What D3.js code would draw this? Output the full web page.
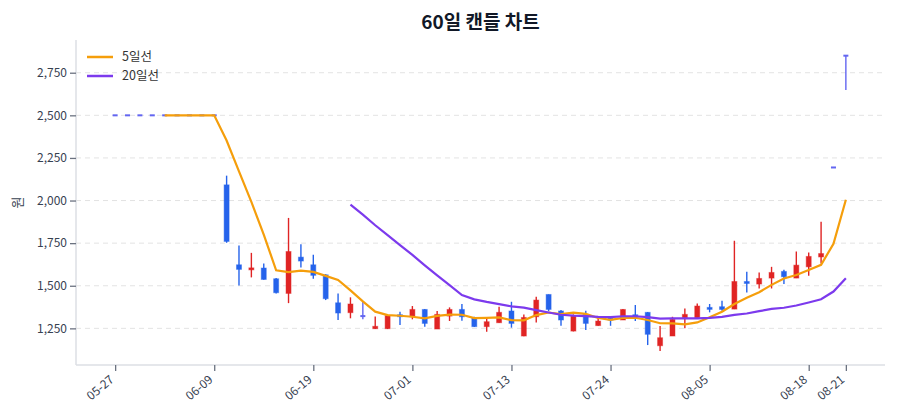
<!DOCTYPE html>
<html>
<head>
<meta charset="utf-8">
<script src="https://cdn.jsdelivr.net/npm/d3@7"></script>
<style>
  body { margin: 0; background: #fff; }
  svg { font-family: "Noto Sans CJK KR", "Noto Sans", sans-serif; }
</style>
</head>
<body>
<script>
var w = 900;
var h = 420;

var dates = ["05-27","05-28","05-29","05-30","06-02","06-03","06-04","06-05","06-09",
  "06-10","06-11","06-12","06-13","06-16","06-17","06-18","06-19",
  "06-20","06-23","06-24","06-25","06-26","06-27","06-30","07-01",
  "07-02","07-03","07-04","07-07","07-08","07-09","07-10","07-13",
  "07-14","07-15","07-16","07-17","07-18","07-21","07-22","07-24",
  "07-25","07-28","07-29","07-30","07-31","08-01","08-04","08-05",
  "08-06","08-07","08-08","08-11","08-12","08-13","08-14","08-18",
  "08-19","08-20","08-21"];

var opens = [2500,2500,2500,2500,2500,2500,2500,2500,2500,
  2092,1623,1598,1604,1541,1455,1668,1623,1564,1400,1342,1322,1248,1248,1330,1318,
  1361,1246,1322,1361,1312,1260,1283,1352,1205,1318,1449,1352,1234,1332,1266,1310,
  1299,1330,1344,1148,1205,1312,1312,1373,1377,1363,1525,1510,1545,1584,1545,1611,
  1669,2194,2850];
var highs = [2500,2500,2500,2500,2500,2500,2500,2500,2500,
  2146,1736,1693,1631,1545,1898,1744,1682,1568,1455,1432,1406,1320,1330,1348,1381,
  1363,1352,1373,1393,1318,1309,1377,1406,1332,1435,1449,1357,1332,1354,1318,1320,
  1363,1387,1346,1264,1318,1367,1396,1393,1412,1764,1582,1578,1611,1594,1701,1695,
  1875,2194,2852];
var lows = [2500,2500,2500,2500,2500,2500,2500,2500,2500,
  1752,1502,1549,1535,1455,1398,1607,1541,1416,1299,1309,1303,1246,1246,1270,1303,
  1260,1246,1293,1295,1258,1230,1283,1254,1203,1285,1352,1266,1232,1240,1266,1265,
  1299,1293,1152,1117,1205,1250,1312,1344,1354,1363,1461,1484,1484,1510,1545,1559,
  1630,2194,2648];
var closes = [2500,2500,2500,2500,2500,2500,2500,2500,2500,
  1760,1596,1605,1537,1459,1701,1645,1561,1424,1340,1393,1322,1262,1325,1320,1361,
  1279,1332,1361,1318,1260,1289,1344,1279,1314,1416,1361,1299,1322,1279,1293,1305,
  1361,1322,1215,1195,1303,1332,1381,1365,1361,1525,1518,1543,1578,1553,1621,1672,
  1689,2194,2850];

var ma5 = [null,null,null,null,2500,2500,2500,2500,2500,
  2352,2171,1992,1800,1591,1580,1589,1581,1558,1534,1473,1408,1348,1328,1324,1318,
  1309,1323,1331,1330,1310,1312,1314,1298,1297,1328,1343,1334,1342,1335,1311,1300,
  1312,1312,1299,1280,1279,1273,1285,1315,1348,1393,1430,1462,1505,1543,1563,1593,
  1623,1746,2005];
var ma20 = [null,null,null,null,null,null,null,null,null,null,
  null,null,null,null,null,null,null,null,null,
  1976,1917,1855,1797,1738,1681,1620,1561,1504,1445,1420,1405,1392,1379,1372,1357,
  1343,1330,1325,1322,1317,1316,1321,1321,1316,1307,1308,1308,1309,1312,1317,1329,
  1337,1351,1364,1371,1384,1402,1421,1466,1544];

var yTicks = [1250, 1500, 1750, 2000, 2250, 2500, 2750];
var xTicks = [0, 8, 16, 24, 32, 40, 48, 56, 59];

var upColor = "#e02424";
var downColor = "#2563eb";
var flatColor = "#6366f1";

var plotLeft = 76, plotRight = 885, plotTop = 40, plotBottom = 365;

var svg = d3.select("body")
            .append("svg")
            .attr("width", w)
            .attr("height", h);

var x = d3.scalePoint()
          .domain(d3.range(dates.length))
          .range([plotLeft, plotRight])
          .padding(3.16);

var y = d3.scaleLinear()
          .domain([1035, 2942])
          .range([plotBottom, plotTop]);

// GRID & AXES =================================

svg.append("g")
    .selectAll("line")
    .data(yTicks)
    .enter().append("line")
        .attr("x1", plotLeft)
        .attr("x2", plotRight)
        .attr("y1", function(d) { return y(d); })
        .attr("y2", function(d) { return y(d); })
        .attr("stroke", "#e3e3e3")
        .attr("stroke-dasharray", "5,4");

var yAxis = svg.append("g")
    .attr("transform", "translate(" + plotLeft + ",0)")
    .call(d3.axisLeft(y).tickValues(yTicks).tickFormat(d3.format(",")).tickSize(6).tickPadding(3));

var xAxis = svg.append("g")
    .attr("transform", "translate(0," + plotBottom + ")")
    .call(d3.axisBottom(x).tickValues(xTicks).tickFormat(function(i) { return dates[i]; }).tickSize(6));

[yAxis, xAxis].forEach(function(g) {
    g.select(".domain").attr("stroke", "#dcdfe4").attr("stroke-width", 1.5);
    g.selectAll(".tick line").attr("stroke", "#6b7280").attr("stroke-width", 1.3);
    g.selectAll(".tick text")
        .attr("fill", "#374151")
        .style("font-family", "\"Noto Sans CJK KR\", \"Noto Sans\", sans-serif")
        .style("font-size", "12px");
});
// the domain line spans the full plot width
xAxis.select(".domain").attr("d", "M" + plotLeft + ",0H" + plotRight);
yAxis.select(".domain").attr("d", "M0," + plotTop + "V" + plotBottom);

xAxis.selectAll(".tick text")
    .attr("text-anchor", "end")
    .attr("y", 0)
    .attr("dy", null)
    .attr("transform", "translate(-1,16) rotate(-40)");

svg.append("text")
    .attr("transform", "translate(22," + ((plotTop + plotBottom) / 2) + ") rotate(-90)")
    .attr("text-anchor", "middle")
    .attr("font-size", "13px")
    .attr("fill", "#374151")
    .text("원");

svg.append("text")
    .attr("x", (plotLeft + plotRight) / 2)
    .attr("y", 29)
    .attr("text-anchor", "middle")
    .attr("font-size", "19px")
    .attr("font-weight", "bold")
    .attr("fill", "#111827")
    .text("60일 캔들 차트");

// CANDLES =====================================

function candleColor(i) {
    if (closes[i] > opens[i]) return upColor;
    if (closes[i] < opens[i]) return downColor;
    return flatColor;
}

var candles = svg.append("g")
    .selectAll("g")
    .data(d3.range(dates.length))
    .enter().append("g");

candles.append("line")
    .attr("x1", function(i) { return x(i); })
    .attr("x2", function(i) { return x(i); })
    .attr("y1", function(i) { return y(highs[i]); })
    .attr("y2", function(i) { return y(lows[i]); })
    .attr("stroke", candleColor)
    .attr("stroke-width", 1.4);

candles.append("rect")
    .attr("x", function(i) { return x(i) - 2.5; })
    .attr("width", 5)
    .attr("y", function(i) { return y(Math.max(opens[i], closes[i])) - (opens[i] === closes[i] ? 1 : 0); })
    .attr("height", function(i) {
        return Math.max(2, Math.abs(y(opens[i]) - y(closes[i])));
    })
    .attr("fill", candleColor)
    .attr("stroke", candleColor)
    .attr("stroke-opacity", 0.45)
    .attr("stroke-width", function(i) { return opens[i] === closes[i] ? 0 : 1; });

// MOVING AVERAGES ==============================

var line = function(values) {
    return d3.line()
        .defined(function(i) { return values[i] !== null; })
        .x(function(i) { return x(i); })
        .y(function(i) { return y(values[i]); })(d3.range(values.length));
};

svg.append("path")
    .attr("d", line(ma5))
    .attr("fill", "none")
    .attr("stroke", "#f59e0b")
    .attr("stroke-width", 2.2);

svg.append("path")
    .attr("d", line(ma20))
    .attr("fill", "none")
    .attr("stroke", "#7c3aed")
    .attr("stroke-width", 2.2);

// LEGEND ======================================

var legend = [["5일선", "#f59e0b"], ["20일선", "#7c3aed"]];
var lg = svg.append("g")
    .selectAll("g")
    .data(legend)
    .enter().append("g")
        .attr("transform", function(d, i) { return "translate(87," + (57 + i * 19) + ")"; });

lg.append("line")
    .attr("x1", 0)
    .attr("x2", 26)
    .attr("stroke", function(d) { return d[1]; })
    .attr("stroke-width", 2.5);

lg.append("text")
    .attr("x", 35)
    .attr("dy", "0.35em")
    .attr("font-size", "12.5px")
    .attr("fill", "#333")
    .text(function(d) { return d[0]; });
</script>
</body>
</html>
